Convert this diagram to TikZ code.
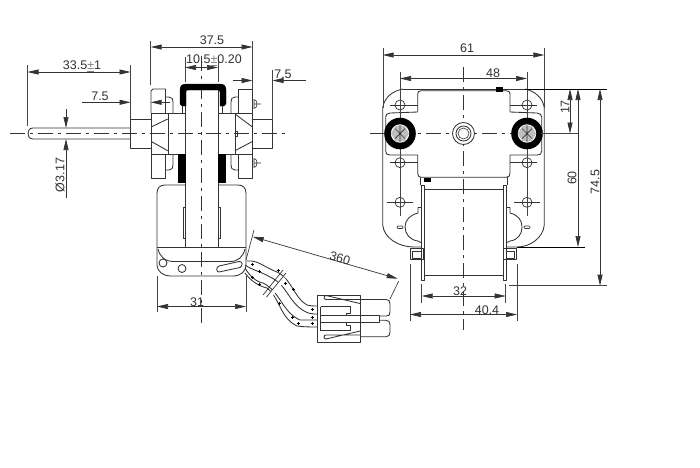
\documentclass[tikz,border=0pt]{standalone}
\usepackage{fontspec}
\setmainfont{Liberation Sans}
\usetikzlibrary{arrows.meta}
\definecolor{ink}{HTML}{333333}
\definecolor{dimc}{HTML}{444444}
\definecolor{hexc}{HTML}{BEBEBE}
\tikzset{
  part/.style={draw=ink,line width=0.85pt,line join=round},
  solid black/.style={fill=black,draw=black,line width=0.3pt},
  centre/.style={draw=ink,line width=0.7pt,dash pattern=on 15pt off 5pt on 3pt off 5pt},
  extline/.style={draw=dimc,line width=0.7pt},
  dimline/.style={draw=black!80,line width=0.7pt},
  tipL/.style={dimline,{Triangle[length=11pt,width=5pt]}-},
  tipR/.style={dimline,-{Triangle[length=11pt,width=5pt]}},
  tipB/.style={dimline,{Triangle[length=11pt,width=5pt]}-{Triangle[length=11pt,width=5pt]}},
  dimtext/.style={font=\fontsize{12.5}{13}\selectfont,text=black!80,inner sep=0pt},
}
\newcommand{\pmgrey}{\textcolor{gray}{\underline{±}}}
\begin{document}
\begin{tikzpicture}[x=1pt,y=-1pt]
\useasboundingbox[fill=white] (0,0) rectangle (700,467);

% ---------- side view ----------
% shaft
\draw[part] (130,128) -- (33,128) .. controls (29,128) and (28,131) .. (28,133.5) .. controls (28,136) and (29,139) .. (33,139) -- (130,139);
\draw[part] (130,119) rectangle (151,148);
\draw[part] (252,119) rectangle (272,148);
% flanges
\draw[part] (151,113) -- (151,91) -- (153,89) -- (165.5,89) -- (165.5,113);
\draw[part] (151,154) -- (151,178) -- (165.5,178) -- (165.5,154);
\draw[part] (252.5,113) -- (252.5,89) -- (238,89) -- (238,113);
\draw[part] (252.5,154) -- (252.5,178) -- (238,178) -- (238,154);
\draw[part] (165.5,97) -- (169,97) .. controls (172,97) and (173,99) .. (173,102) -- (173,113);
\draw[part] (165.5,170) -- (169,170) .. controls (172,170) and (173,168) .. (173,165) -- (173,154);
\draw[part] (238,97) -- (235,97) .. controls (232,97) and (231,99) .. (231,102) -- (231,113);
\draw[part] (238,170) -- (235,170) .. controls (232,170) and (231,168) .. (231,165) -- (231,154);
% screws
\draw[part,line width=0.6pt] (254,99.5) .. controls (258,99.5) and (258,108.5) .. (254,108.5) -- cycle (254,104) -- (261,104);
\draw[part,line width=0.6pt] (254,158.5) .. controls (258,158.5) and (258,167.5) .. (254,167.5) -- cycle (254,163) -- (261,163);
% hub
\draw[part] (151,113) rectangle (252.5,154);
\draw[part] (168,113) -- (168,154);
\draw[part] (235,113) -- (235,154);
\draw[part] (151.7,126.7) -- (167.7,119);
\draw[part] (151.7,141.7) -- (167.7,150.7);
\draw[part] (235,114) -- (252,126.7);
\draw[part] (235,150.7) -- (252,141.7);
\draw[part,line width=0.6pt] (235,131) rectangle (237,136);
% lamination
\fill[white] (185.5,90) rectangle (218,247);
\draw[part] (185.5,90) -- (185.5,247);
\draw[part] (218,90) -- (218,247);
% centre lines
\draw[centre] (10,133.5) -- (288,133.5);
\draw[centre] (201,56) -- (201,327);
% black U clamp
\path[solid black] (182,106) -- (180,104) -- (180,90) .. controls (180,86) and (182,84) .. (186,84) -- (220,84)
  .. controls (224,84) and (226,86) .. (226,90) -- (226,104) -- (224,106) -- (220,106) -- (220,92)
  .. controls (220,90.5) and (219,90) .. (218,90) -- (188,90) .. controls (186.5,90) and (186,90.5) .. (186,92) -- (186,106) -- cycle;
\draw[part] (182,106) -- (182,113);
\draw[part] (222,106) -- (222,113);
\path[solid black] (178.5,154) rectangle (185.5,182);
\path[solid black] (218,154) rectangle (225.5,182);
% coil frame
\draw[part] (185.5,185) -- (165,185) .. controls (160,185) and (157,188) .. (157,193) -- (157,265)
  .. controls (157,271) and (163,276) .. (170,276) -- (233,276) .. controls (241,276) and (246,271) .. (246,265)
  -- (246,193) .. controls (246,188) and (243,185) .. (238,185) -- (218,185);
\draw[part] (157,247.5) -- (246,247.5);
\draw[part] (158,249) .. controls (160,257) and (165,261.5) .. (174,261.5) -- (230,261.5) .. controls (238,261.5) and (243,257) .. (245,249);
\draw[part] (183,207) rectangle (185.5,238);
\draw[part] (218,207) rectangle (220.5,238);
\draw[part] (163,263) circle[radius=4];
\draw[part] (182,268.5) circle[radius=4];
\draw[part] (219,272) .. controls (216,272) and (216,267) .. (219,266) -- (239,261.5) .. controls (243,261) and (243,266) .. (240,267.5) -- cycle;
% wires
\draw[part] (247,261) .. controls (258,260) and (262,266) .. (277,272) .. controls (292,279) and (294,298) .. (307,305) .. controls (311,306) and (314,306) .. (317,306);
\draw[part] (245,265) .. controls (252,270) and (262,272) .. (270,277) .. controls (288,285) and (288,303) .. (306,312) .. controls (310,314) and (314,314) .. (317,314);
\draw[part] (245,268) .. controls (249,275) and (256,282) .. (263,283) .. controls (280,291) and (282,312) .. (300,320) .. controls (306,320) and (312,320) .. (317,320);
\draw[part] (245,273) .. controls (250,280) and (258,286) .. (267,288) .. controls (280,298) and (280,318) .. (297,326) .. controls (304,327) and (312,327) .. (317,327);
\foreach \a/\b [count=\i] in {252/264,259/271,278/270,252/277,259/284,285/283,293/289,279/303,292/317,298/323,312/309,312/317,312/323}{
  \draw[black,line width=0.5pt] (\a-1.5,\b) -- (\a+1.5,\b) (\a,\b-1.5) -- (\a,\b+1.5);
}
\fill[white] (267,296) -- (283,276) -- (286,279.5) -- (270,299) -- cycle;
\draw[part,line width=0.7pt] (263,295) -- (283,270);
\draw[part,line width=0.7pt] (266.5,297) -- (286,273);
% connector
\draw[part] (317.3,295) rectangle (360,342.3);
\draw[part] (360,299.5) -- (386,299.5) .. controls (389,299.5) and (390,301) .. (390,304) -- (390,312) .. controls (390,315) and (389,316) .. (386,316) -- (379,316);
\draw[part] (379,320.3) -- (386,320.3) .. controls (389,320.3) and (390,322) .. (390,325) -- (390,332) .. controls (390,335) and (389,336.7) .. (386,336.7) -- (360,336.7);
\draw[part] (320.7,315.7) rectangle (379.3,322.3);
\draw[part] (360,299.5) -- (326,299.5) arc (90:270:2) -- (360,303.5);
\draw[part] (360,335) -- (326,335) arc (270:90:2) -- (360,331);
\draw[part] (320.7,306.7) -- (350,306.7) -- (350,313.3) -- (346.7,313.3) -- (346.7,315.7);
\draw[part] (320.7,330.7) -- (350,330.7) -- (350,325) -- (346.7,325) -- (346.7,322.3);
\draw[part] (320.7,306.7) -- (320.7,330.7);

% side view dimensions
\draw[extline] (150.7,41) -- (150.7,85);
\draw[extline] (252.5,41) -- (252.5,89);
\draw[tipB] (150.7,47) -- (252.5,47);
\node[dimtext] (d375) at (212,40) {37.5};
\draw[extline] (185,57) -- (185,82);
\draw[extline] (218,57) -- (218,82);
\draw[tipB] (185,67.5) -- (218,67.5);
\node[dimtext] (d105) at (214,60) {10.5\pmgrey 0.20};
\draw[extline] (272.5,70) -- (272.5,119);
\draw[tipR] (233,80.5) -- (252.5,80.5);
\draw[tipL] (272.5,80.5) -- (306,80.5);
\node[dimtext] (d75r) at (283,74) {7.5};
\draw[extline] (27.5,65) -- (27.5,126);
\draw[extline] (130.5,65) -- (130.5,119);
\draw[tipB] (27.5,72) -- (130.5,72);
\node[dimtext] (d335) at (82,66) {33.5\pmgrey 1};
\draw[tipR] (82,102.3) -- (130.5,102.3);
\draw[tipL] (150.7,102.3) -- (170,102.3);
\node[dimtext] (d75l) at (100,96) {7.5};
\draw[tipR] (66,109) -- (66,128);
\draw[tipL] (66,139) -- (66,198);
\node[dimtext,rotate=90] (d317) at (60,175) {Ø3.17};
\draw[extline] (157,276) -- (157,312);
\draw[extline] (246,276) -- (246,312);
\draw[tipB] (157,306.5) -- (246,306.5);
\node[dimtext] (d31) at (197,302) {31};
\draw[extline] (254,230) -- (246,260);
\draw[extline] (398.7,281) -- (390,299);
\draw[tipB] (252.7,236.7) -- (397.7,278.7);
\node[dimtext,rotate=-16] (d360) at (340,258) {360};

% ---------- front view ----------
\draw[part] (403,89) -- (525,89);
\draw[part] (417.7,112) -- (417.7,94) .. controls (417.7,92) and (419,90.7) .. (421,90.7) -- (506,90.7) .. controls (509,90.7) and (510,92) .. (510,94) -- (510,112);
\draw[part] (417.7,112) -- (390,113) .. controls (387,113) and (385.7,115) .. (385.7,117) -- (385.7,151) .. controls (385.7,154) and (387,155) .. (390,155) -- (417.7,155)
  -- (417.7,173) .. controls (417.7,176) and (419,177.3) .. (421,177.3) -- (506,177.3) .. controls (509,177.3) and (510,176) .. (510,173) -- (510,155)
  -- (537,155) .. controls (540,155) and (541.7,154) .. (541.7,151) -- (541.7,117) .. controls (541.7,115) and (540,113) .. (537,113) -- (510,112);
% outer plate
\draw[part] (403,89) .. controls (392,91) and (384,98) .. (382.7,108) -- (382.7,225) .. controls (384,238) and (398,247) .. (415,247) -- (421,247);
\draw[part] (525,89) .. controls (535,91) and (543,98) .. (544.3,108) -- (544.3,225) .. controls (543,238) and (530,247) .. (517,247) -- (507,247);
% coil
\draw[part] (420.7,177.3) -- (420.7,185);
\draw[part] (507,177.3) -- (507,185);
\draw[part] (421.7,185) -- (424.3,185) -- (424.3,280) -- (421.7,280) -- cycle;
\draw[part] (503.3,185) -- (506,185) -- (506,280) -- (503.3,280) -- cycle;
\draw[part] (424.3,189) -- (503.3,189);
\draw[part] (424.3,275.7) -- (503.3,275.7);
% tabs
\draw[part] (421.7,207.5) -- (418,207.5) -- (418,213) .. controls (410,215) and (405,220) .. (405,227) .. controls (405,234) and (410,240) .. (418,241) -- (421.7,243);
\draw[part] (506,207.5) -- (510,207.5) -- (510,213) .. controls (518,215) and (522,220) .. (522,227) .. controls (522,234) and (518,240) .. (510,241) -- (506,243);
\draw[part,line width=0.7pt,rounded corners=1pt] (397,226) rectangle (403,228.5);
\draw[part,line width=0.7pt,rounded corners=1pt] (524,226) rectangle (530,228.5);
% feet
\draw[part] (410.7,248) rectangle (423.5,259.5);
\draw[part] (412.7,251) rectangle (421,258.3);
\draw[part] (503.5,248) rectangle (516,259.5);
\draw[part] (506,251) rectangle (514,258.3);
% holes + crosses
\foreach \hx/\hy in {400/105,527/105,400/162.7,527/162.7}{
  \draw[part,line width=0.7pt] (\hx,\hy) circle[radius=5];
}
\draw[part,line width=0.7pt] (390,105) -- (417.7,105) (510,105) -- (537,105);
\draw[part,line width=0.7pt] (390,162.7) -- (417.7,162.7) (510,162.7) -- (537,162.7);
\foreach \hx in {400,527}{
  \draw[part,line width=0.7pt] (\hx,202.3) circle[radius=5];
  \draw[part,line width=0.7pt] (\hx-13,202.3) -- (\hx+13,202.3);
}
\draw[extline] (383,48) -- (383,108);
\draw[extline] (544.3,48) -- (544.3,108);
\draw[extline] (400,72) -- (400,128);
\draw[extline] (527,72) -- (527,128);
\draw[extline] (400,146) -- (400,216);
\draw[extline] (527,146) -- (527,216);
% centre lines
\draw[centre] (370,133.5) -- (553,133.5);
\draw[centre] (463.5,67) -- (463.5,330);
% rings
\foreach \rx in {400,527}{
  \fill[black] (\rx,133.5) circle[radius=15.8];
  \fill[white] (\rx,133.5) circle[radius=9.2];
  \fill[hexc] (\rx-9,133.5) -- (\rx-4.5,125.7) -- (\rx+4.5,125.7) -- (\rx+9,133.5) -- (\rx+4.5,141.3) -- (\rx-4.5,141.3) -- cycle;
  \draw[ink,line width=0.7pt] (\rx-5,128.5) -- (\rx+5,138.5) (\rx-5,138.5) -- (\rx+5,128.5) (\rx,125) -- (\rx,142);
}
\draw[part,fill=white] (463.5,133.5) circle[radius=11];
\draw[part] (463.5,133.5) circle[radius=7.5];
\draw[part,line width=0.6pt] (463.5,133.5) circle[radius=5.5];
\path[solid black] (496,87.5) rectangle (502.5,91);
\path[solid black] (424,177.8) rectangle (430.5,181);
\draw[black,line width=1pt] (525,89) -- (607,89);
\draw[black,line width=1pt] (517,247) -- (585,247);
\draw[extline] (509,285.7) -- (607,285.7);
\draw[extline] (541,133.5) -- (578,133.5);

% front view dimensions
\draw[tipB] (382.7,55) -- (544.3,55);
\node[dimtext] (d61) at (467,48) {61};
\draw[tipB] (400,78.5) -- (527,78.5);
\node[dimtext] (d48) at (493,73) {48};
\draw[tipB] (570,89) -- (570,133.5);
\node[dimtext,rotate=90] (d17) at (565,107) {17};
\draw[tipB] (578,89) -- (578,247);
\node[dimtext,rotate=90] (d60) at (572,178) {60};
\draw[tipB] (600,89) -- (600,285.7);
\node[dimtext,rotate=90] (d745) at (595,182) {74.5};
\draw[extline] (421.7,284) -- (421.7,303);
\draw[extline] (505.7,284) -- (505.7,303);
\draw[tipB] (421.7,296) -- (505.7,296);
\node[dimtext] (d32) at (460,291) {32};
\draw[extline] (410,264) -- (410,321);
\draw[extline] (517,264) -- (517,321);
\draw[tipB] (410,314.5) -- (517,314.5);
\node[dimtext] (d404) at (487,310) {40.4};
\end{tikzpicture}
\end{document}
